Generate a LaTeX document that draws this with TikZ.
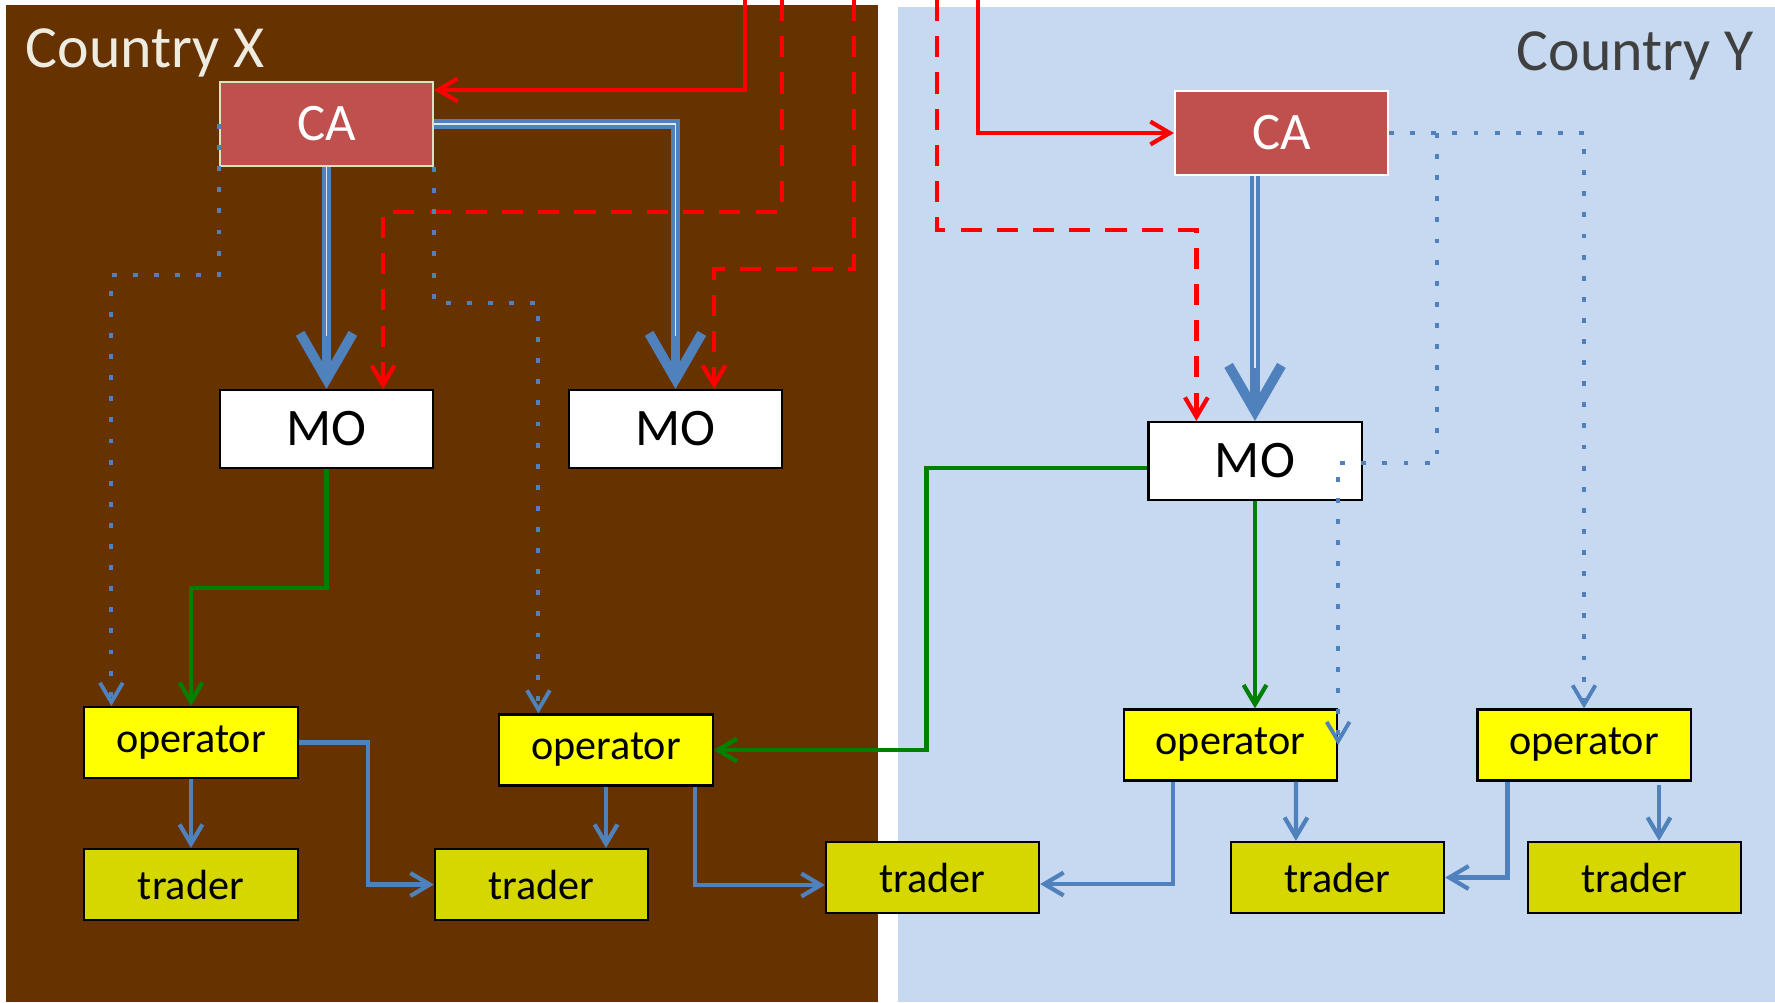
\documentclass[tikz,border=0pt]{standalone}
\usepackage{fontspec}
\setmainfont{Carlito}
\usetikzlibrary{arrows.meta}
\definecolor{cBrown}{RGB}{102,51,0}
\definecolor{cSky}{RGB}{198,217,241}
\definecolor{cCA}{RGB}{192,80,77}
\definecolor{cCAedge}{RGB}{215,228,189}
\definecolor{cBlue}{RGB}{79,129,189}
\definecolor{cGreen}{RGB}{0,128,0}
\definecolor{cOp}{RGB}{255,255,0}
\definecolor{cTr}{RGB}{215,215,0}
\definecolor{cCream}{RGB}{238,236,225}
\definecolor{cGrey}{RGB}{64,64,64}

\begin{document}
\begin{tikzpicture}[
  x=0.01cm, y=-0.01cm,
  >={Straight Barb[length=5.5pt,width=6.5pt]},
  box/.style       = {draw=black, line width=0.6pt, inner sep=0pt, minimum width=2.13cm},
  ca/.style        = {box, fill=cCA, draw=cCAedge, text=white, minimum height=0.84cm,
                      font=\fontsize{15}{18}\selectfont},
  mo/.style        = {box, fill=white, minimum height=0.78cm, font=\fontsize{15}{18}\selectfont},
  oper/.style      = {box, fill=cOp, minimum height=0.71cm, font=\fontsize{12}{14}\selectfont},
  trad/.style      = {box, fill=cTr, minimum height=0.71cm, font=\fontsize{12}{14}\selectfont},
  land/.style      = {inner sep=0pt, font=\fontsize{17}{20}\selectfont},
  flow/.style      = {->, draw=cBlue, line width=1.2pt},
  greenflow/.style = {->, draw=cGreen, line width=1.2pt},
  redflow/.style   = {->, draw=red, line width=1.2pt},
  redcut/.style    = {redflow, dash pattern=on 6pt off 4.3pt},
  dotflow/.style   = {->, draw=cBlue, line width=1.1pt, dash pattern=on 1.4pt off 4.6pt},
  bigflow/.style   = {draw=cBlue, line width=2.8pt, -{Straight Barb[length=13pt,width=15pt]},
                      postaction={draw=cSky!60!white, line width=0.5pt, -, shorten >=15pt}}
]

% ----------------------------------------------------------- the two countries --
\fill[cBrown] (6,5) rectangle (878,1002);
\fill[cSky] (898,7) rectangle (1775,1002);
\useasboundingbox (0,0) rectangle (1775,1002);

\node[land, text=cCream, anchor=base west] (lblX) at (25,67) {Country X};
\node[land, text=cGrey, anchor=base east]  (lblY) at (1754,70) {Country Y};

% ------------------------------------------------------------------ the boxes --
\node[ca]   (caX)  at (326.5,124) {CA};
\node[mo]   (moX1) at (326.5,429) {MO};
\node[mo]   (moX2) at (675.5,429) {MO};
\node[oper] (opX1) at (191,742.5) {operator};
\node[oper] (opX2) at (606,750)   {operator};
\node[trad] (trX1) at (191,884.5) {trader};
\node[trad] (trX2) at (541.5,884.5) {trader};
\node[trad] (trM)  at (932.5,877.5) {trader};

\node[ca, draw=white] (caY) at (1281.5,133) {CA};
\node[mo]   (moY)  at (1255,461)    {MO};
\node[oper] (opY1) at (1230.5,745)  {operator};
\node[oper] (opY2) at (1584,745)    {operator};
\node[trad] (trY1) at (1337.5,877.5) {trader};
\node[trad] (trY2) at (1634.5,877.5) {trader};

% lines coming in from above the picture
\coordinate (inX)   at (745,0);
\coordinate (inY)   at (978,0);
\coordinate (cutX1) at (782,0);
\coordinate (cutX2) at (854,0);
\coordinate (cutY)  at (937,0);

% -------------------------------------------------------------- CA to the MOs --
\draw[bigflow] (caX) -- (moX1);
\draw[bigflow] (caX.east) -| (moX2.north);
\draw[bigflow] (caY.south -| moY.north) -- (moY.north);

% ------------------------------------------------------------------ red lines --
\draw[redflow] (inX) |- ([yshift=-0.09cm]caX.north east);
\draw[redflow] (inY) |- (caY.west);
\draw[redcut] (cutX1) -- ++(0,212) -| ([xshift=-0.51cm]moX1.north east);
\draw[redcut] (cutX2) -- ++(0,269) -| ([xshift=-0.69cm]moX2.north east);
\draw[redcut] (cutY)  -- ++(0,230) -| ([xshift=0.49cm]moY.north west);

% ----------------------------------------------------------- dotted, from CA --
\draw[dotflow] (caX.west) -- ++(0,151) -| ([xshift=0.28cm]opX1.north west);
\draw[dotflow] (caX.south east) -- ++(0,136) -| ([xshift=0.40cm]opX2.north west);
\draw[dotflow] (caY.east) -| (opY2.north);
\draw[dotflow] ([xshift=0.48cm]caY.east) -- ++(0,330) -| (opY1.east);

% ---------------------------------------------------------------- green lines --
\draw[greenflow] (moX1.south) -- ++(0,119) -| (opX1.north);
\draw[greenflow] ([yshift=-0.07cm]moY.west) -- ++(-221,0) |- (opX2.east);
\draw[greenflow] (moY.south) -- (moY.south |- opY1.north);

% ------------------------------------------------------- operators to traders --
\draw[flow] (opX1) -- (trX1);
\draw[flow] (opX1.east) -- ++(69,0) |- (trX2.west);
\draw[flow] (opX2.south) -- (opX2.south |- trX2.north);
\draw[flow] ([xshift=-0.19cm]opX2.south east) |- ([yshift=-0.075cm]trM.west);
\draw[flow] ([xshift=0.5cm]opY1.south west) |- ([yshift=-0.065cm]trM.east);
\draw[flow] ([xshift=-0.42cm]opY1.south east) -- ([xshift=0.66cm]trY1.north west);
\draw[flow] ([xshift=0.31cm]opY2.south west) |- (trY1.east);
\draw[flow] ([xshift=0.245cm,yshift=0.56cm]trY2.north) -- ([xshift=0.245cm]trY2.north);

\end{tikzpicture}
\end{document}
